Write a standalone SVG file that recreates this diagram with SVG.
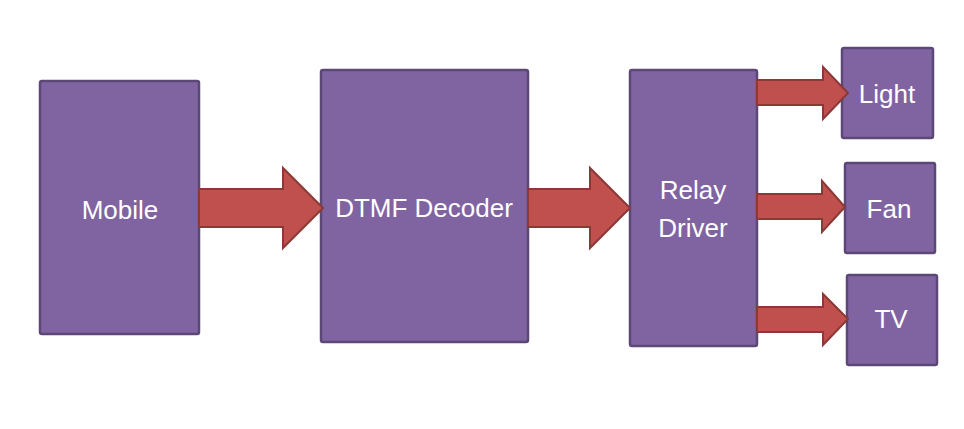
<svg xmlns="http://www.w3.org/2000/svg" width="964" height="429" viewBox="0 0 964 429">
<style>
.box{fill:#8064A2;stroke:#5C4776;stroke-width:2.5}
.arr{fill:#C0504D;stroke:#8C3836;stroke-width:2;stroke-linejoin:miter}
.lbl{font-family:"Liberation Sans",Arial,sans-serif;font-size:26px;fill:#FFFFFF;text-anchor:middle}
</style>
<rect x="0" y="0" width="964" height="429" fill="#FFFFFF"/>
<g id="mobile"><rect class="box" x="40" y="81" width="159" height="253" rx="2"/><text class="lbl" x="120" y="219">Mobile</text></g>
<g id="dtmf"><rect class="box" x="321" y="70" width="207" height="272" rx="2"/><text class="lbl" x="424" y="217">DTMF Decoder</text></g>
<g id="relay"><rect class="box" x="630" y="70" width="127" height="276" rx="2"/><text class="lbl" x="693" y="199">Relay</text><text class="lbl" x="693" y="237">Driver</text></g>
<g id="light"><rect class="box" x="842" y="48" width="91" height="90" rx="2"/><text class="lbl" x="887" y="103">Light</text></g>
<g id="fan"><rect class="box" x="845" y="163" width="90" height="90" rx="2"/><text class="lbl" x="889" y="218">Fan</text></g>
<g id="tv"><rect class="box" x="847" y="275" width="90" height="90" rx="2"/><text class="lbl" x="891" y="328">TV</text></g>
<g id="connectors">
<polygon class="arr" points="199,189 283,189 283,168 323,208 283,248 283,227 199,227"/>
<polygon class="arr" points="528,189 590,189 590,168 630,208 590,248 590,227 528,227"/>
<polygon class="arr" points="757,80 823,80 823,67 848,93 823,119 823,105 757,105"/>
<polygon class="arr" points="757,194 822,194 822,181 845,207 822,232 822,219 757,219"/>
<polygon class="arr" points="757,307 823,307 823,294 848,319 823,345 823,332 757,332"/>
</g>
</svg>
